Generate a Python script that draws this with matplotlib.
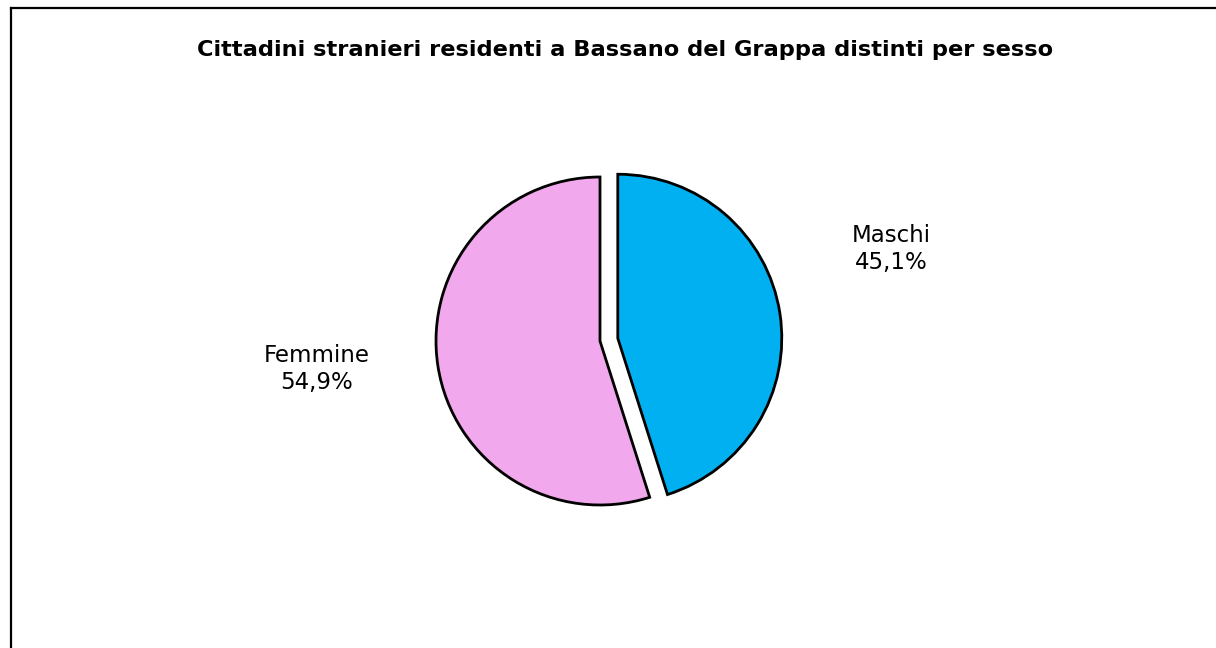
import matplotlib.pyplot as plt
from matplotlib.lines import Line2D

# data
labels = ["Maschi", "Femmine"]
shares = [45.1, 54.9]
colors = ["#00B0F0", "#F2A8EC"]
title = "Cittadini stranieri residenti a Bassano del Grappa distinti per sesso"

W, H = 1216, 648
fig = plt.figure(figsize=(W / 100, H / 100), dpi=100)
ax = fig.add_axes([0, 0, 1, 1])
ax.axis("off")

# chart frame (only top and left edges are visible)
fig.add_artist(Line2D([11, W], [H - 8, H - 8], transform=None, color="black", lw=1.6))
fig.add_artist(Line2D([11, 11], [0, H - 8], transform=None, color="black", lw=1.6))

ax.pie(shares, colors=colors, startangle=90, counterclock=False,
       center=(600, H - 341), radius=164, explode=[18, 0],
       wedgeprops=dict(edgecolor="black", linewidth=2))
ax.set_xlim(0, W)
ax.set_ylim(0, H)
ax.set_aspect("auto")

font = "DejaVu Sans"
ax.text(625, H - 50, title, ha="center", va="center", fontsize=16.2,
        fontweight="bold", family=font)

label_pos = [(891, H - 249), (317, H - 369)]
for lab, v, (x, y) in zip(labels, shares, label_pos):
    txt = lab + "\n" + f"{v:.1f}".replace(".", ",") + "%"
    ax.text(x, y, txt, ha="center", va="center", fontsize=16.5,
            family=font, linespacing=1.17)

fig.savefig("out.png", dpi=100)
